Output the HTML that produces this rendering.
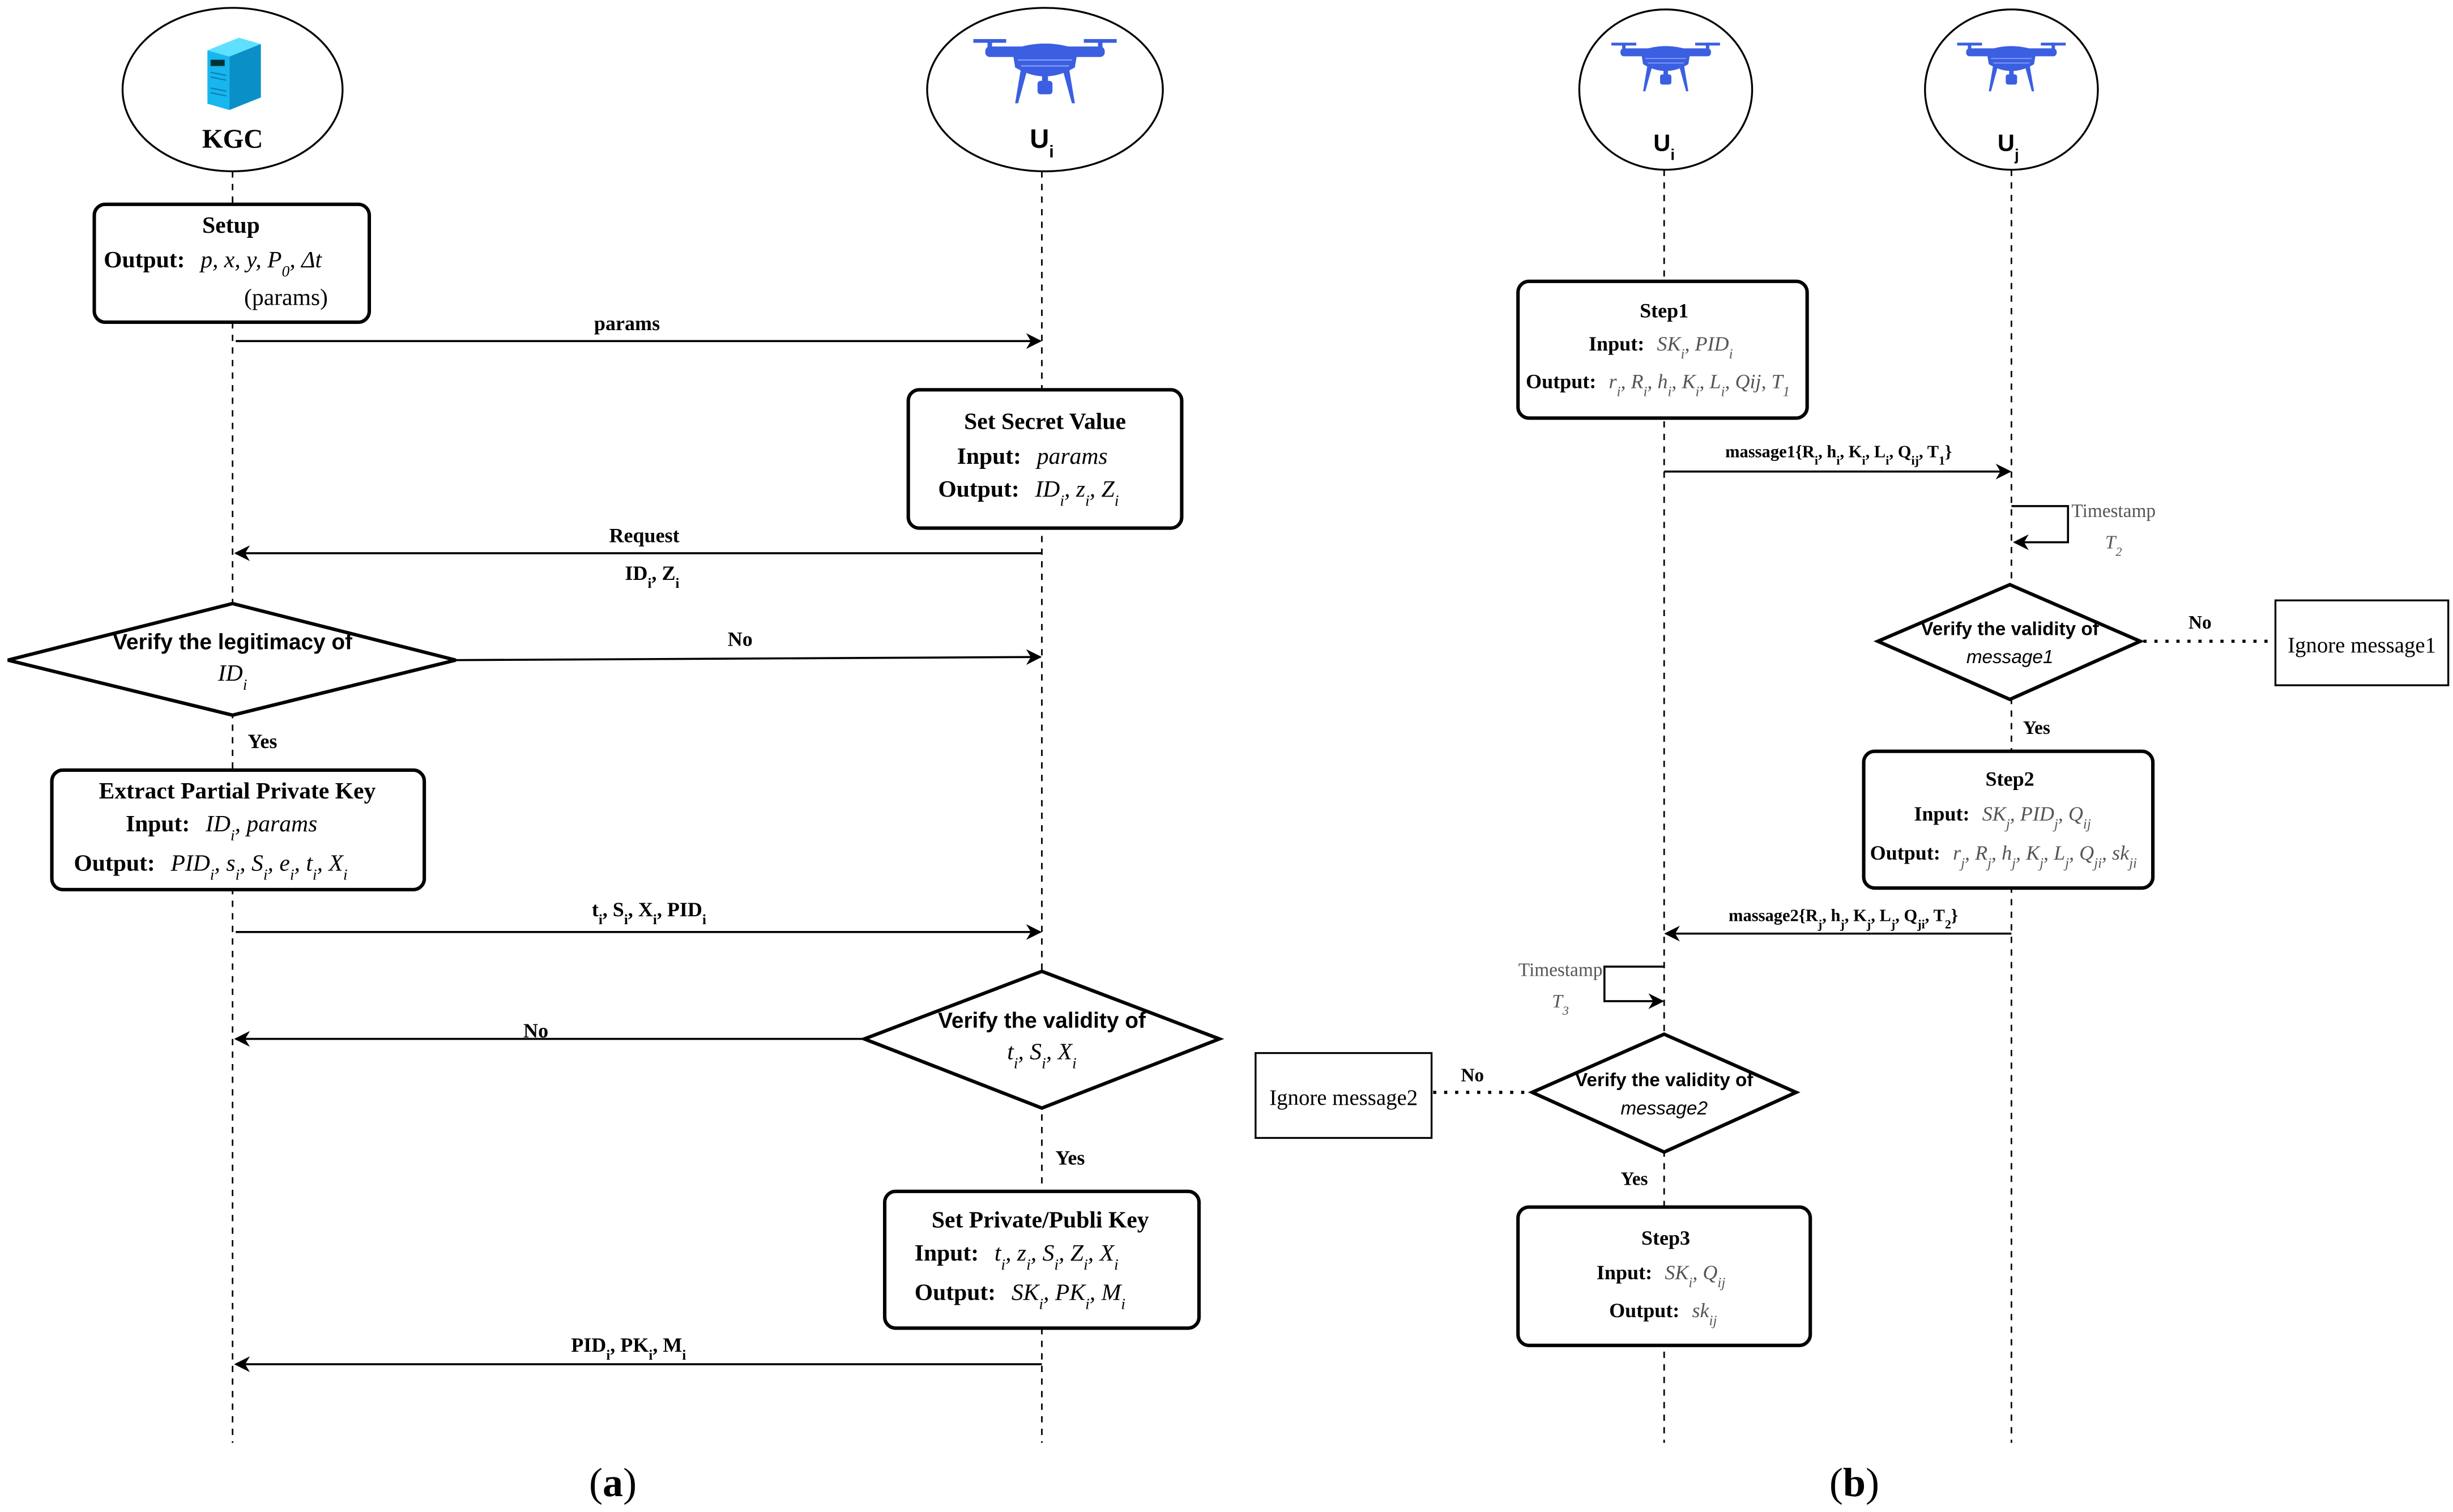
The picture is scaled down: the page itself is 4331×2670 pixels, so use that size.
<!DOCTYPE html>
<html><head><meta charset="utf-8"><style>
html,body{margin:0;padding:0;background:#fff;}
svg{display:block;}
text{font-family:"Liberation Serif",serif;}
.b{font-weight:bold;}
.s{font-family:"Liberation Sans",sans-serif;}
.i{font-style:italic;font-weight:normal;}
.g{fill:#555;}
</style></head><body>
<svg width="4331" height="2670" viewBox="0 0 1561 962" preserveAspectRatio="none" xmlns="http://www.w3.org/2000/svg">
<defs>
<marker id="ar" markerWidth="10" markerHeight="10" refX="9" refY="5" orient="auto" markerUnits="userSpaceOnUse">
<path d="M0,0 L10,5 L0,10 L3,5 Z" fill="#000"/>
</marker>
<g id="drone" fill="#3b5fe0" stroke="none">
<rect x="-48" y="3" width="22" height="2.5"/><rect x="26" y="3" width="22" height="2.5"/>
<rect x="-38.5" y="3" width="3" height="7"/><rect x="35.5" y="3" width="3" height="7"/>
<rect x="-40" y="8" width="80" height="7" rx="3"/>
<path d="M-22,10 Q0,2 22,10 L20,22 Q0,34 -20,22 Z"/>
<path d="M-16,22 L-20,46 L-18,46 L-12,24 Z"/><path d="M16,22 L20,46 L18,46 L12,24 Z"/>
<rect x="-2" y="26" width="4" height="6"/><rect x="-5" y="31" width="10" height="9" rx="2"/>
<g stroke="#8aa0ff" stroke-width="0.8"><line x1="-18" y1="17" x2="18" y2="17"/><line x1="-16" y1="21" x2="16" y2="21"/></g>
</g>
</defs>
<g fill="none" stroke="#000" stroke-width="1.2">
<!-- panel a actors -->
<ellipse cx="148" cy="57" rx="70" ry="52"/>
<ellipse cx="665" cy="57" rx="75" ry="52"/>
<!-- panel b actors -->
<ellipse cx="1060" cy="57" rx="55" ry="51"/>
<ellipse cx="1280" cy="57" rx="55" ry="51"/>
</g>
<!-- server icon -->
<g>
<polygon points="132,32 152,24 166,28 146,36" fill="#5fe0ff"/>
<polygon points="146,36 166,28 166,62 146,70" fill="#0a8fc7"/>
<polygon points="132,32 146,36 146,70 132,66" fill="#17b6ef"/>
<rect x="134" y="38" width="9" height="4" fill="#033"/>
<g stroke="#0a7fb0" stroke-width="0.8"><line x1="134" y1="46" x2="144" y2="48"/><line x1="134" y1="49" x2="144" y2="51"/><line x1="134" y1="56" x2="144" y2="58"/><line x1="134" y1="59" x2="144" y2="61"/></g>
</g>
<use href="#drone" transform="translate(665,22) scale(0.95)"/>
<use href="#drone" transform="translate(1060,25) scale(0.72)"/>
<use href="#drone" transform="translate(1280,25) scale(0.72)"/>
<text x="148" y="94" font-size="17" class="b" text-anchor="middle">KGC</text>
<text x="663" y="94" font-size="17" class="b s" text-anchor="middle">U<tspan baseline-shift="sub" font-size="11">i</tspan></text>
<text x="1059" y="96" font-size="15" class="b s" text-anchor="middle">U<tspan baseline-shift="sub" font-size="10">i</tspan></text>
<text x="1278" y="96" font-size="15" class="b s" text-anchor="middle">U<tspan baseline-shift="sub" font-size="10">j</tspan></text>

<!-- lifelines -->
<g stroke="#000" stroke-width="1" stroke-dasharray="4,4">
<line x1="148" y1="109" x2="148" y2="918"/>
<line x1="663" y1="109" x2="663" y2="918"/>
<line x1="1059" y1="108" x2="1059" y2="918"/>
<line x1="1280" y1="108" x2="1280" y2="918"/>
</g>

<!-- boxes (white fill to cover lifelines) -->
<g fill="#fff" stroke="#000" stroke-width="2.2">
<rect x="60" y="130" width="175" height="75" rx="7"/>
<rect x="578" y="248" width="174" height="88" rx="7"/>
<polygon points="148,384 290,420 148,455 5,420"/>
<rect x="33" y="490" width="237" height="76" rx="7"/>
<polygon points="663,618 776,661 663,705 550,661"/>
<rect x="563" y="758" width="200" height="87" rx="7"/>
<rect x="966" y="179" width="184" height="87" rx="7"/>
<polygon points="1279,372 1362,408 1279,445 1195,408"/>
<rect x="1186" y="478" width="184" height="87" rx="7"/>
<polygon points="1059,658 1143,695 1059,733 975,695"/>
<rect x="966" y="768" width="186" height="88" rx="7"/>
</g>
<g fill="#fff" stroke="#000" stroke-width="1.2">
<rect x="1448" y="382" width="110" height="54"/>
<rect x="799" y="670" width="112" height="54"/>
</g>

<!-- arrows -->
<g stroke="#000" stroke-width="1.3" fill="none">
<line x1="150" y1="217" x2="662" y2="217" marker-end="url(#ar)"/>
<line x1="663" y1="352" x2="150" y2="352" marker-end="url(#ar)"/>
<line x1="290" y1="420" x2="662" y2="418" marker-end="url(#ar)"/>
<line x1="150" y1="593" x2="662" y2="593" marker-end="url(#ar)"/>
<line x1="550" y1="661" x2="150" y2="661" marker-end="url(#ar)"/>
<line x1="663" y1="868" x2="150" y2="868" marker-end="url(#ar)"/>
<line x1="1059" y1="300" x2="1279" y2="300" marker-end="url(#ar)"/>
<polyline points="1280,322 1316,322 1316,345 1282,345" marker-end="url(#ar)"/>
<line x1="1280" y1="594" x2="1060" y2="594" marker-end="url(#ar)"/>
<polyline points="1059,615 1021,615 1021,637 1058,637" marker-end="url(#ar)"/>
</g>
<g stroke="#000" stroke-width="2" stroke-dasharray="2,5">
<line x1="1364" y1="408" x2="1447" y2="408"/>
<line x1="912" y1="695" x2="974" y2="695"/>
</g>

<!-- panel a texts -->
<g font-size="15" class="b">
<text x="147" y="148" text-anchor="middle">Setup</text>
<text x="66" y="170">Output:<tspan class="i" dx="10">p, x, y, P<tspan baseline-shift="sub" font-size="10">0</tspan>, Δt</tspan></text>
<text x="182" y="194" text-anchor="middle" font-weight="normal">(params)</text>
<text x="665" y="273" text-anchor="middle">Set Secret Value</text>
<text x="609" y="295">Input:<tspan class="i" dx="10">params</tspan></text>
<text x="597" y="316">Output:<tspan class="i" dx="10">ID<tspan baseline-shift="sub" font-size="10">i</tspan>, z<tspan baseline-shift="sub" font-size="10">i</tspan>, Z<tspan baseline-shift="sub" font-size="10">i</tspan></tspan></text>
<text x="151" y="508" text-anchor="middle">Extract Partial Private Key</text>
<text x="80" y="529">Input:<tspan class="i" dx="10">ID<tspan baseline-shift="sub" font-size="10">i</tspan>, params</tspan></text>
<text x="47" y="554">Output:<tspan class="i" dx="10">PID<tspan baseline-shift="sub" font-size="10">i</tspan>, s<tspan baseline-shift="sub" font-size="10">i</tspan>, S<tspan baseline-shift="sub" font-size="10">i</tspan>, e<tspan baseline-shift="sub" font-size="10">i</tspan>, t<tspan baseline-shift="sub" font-size="10">i</tspan>, X<tspan baseline-shift="sub" font-size="10">i</tspan></tspan></text>
<text x="662" y="781" text-anchor="middle">Set Private/Publi Key</text>
<text x="582" y="802">Input:<tspan class="i" dx="10">t<tspan baseline-shift="sub" font-size="10">i</tspan>, z<tspan baseline-shift="sub" font-size="10">i</tspan>, S<tspan baseline-shift="sub" font-size="10">i</tspan>, Z<tspan baseline-shift="sub" font-size="10">i</tspan>, X<tspan baseline-shift="sub" font-size="10">i</tspan></tspan></text>
<text x="582" y="827">Output:<tspan class="i" dx="10">SK<tspan baseline-shift="sub" font-size="10">i</tspan>, PK<tspan baseline-shift="sub" font-size="10">i</tspan>, M<tspan baseline-shift="sub" font-size="10">i</tspan></tspan></text>
</g>
<g font-size="13" class="b">
<text x="399" y="210" text-anchor="middle">params</text>
<text x="410" y="345" text-anchor="middle">Request</text>
<text x="415" y="369" text-anchor="middle">ID<tspan baseline-shift="sub" font-size="9">i</tspan>, Z<tspan baseline-shift="sub" font-size="9">i</tspan></text>
<text x="471" y="411" text-anchor="middle">No</text>
<text x="167" y="476" text-anchor="middle">Yes</text>
<text x="413" y="583" text-anchor="middle">t<tspan baseline-shift="sub" font-size="9">i</tspan>, S<tspan baseline-shift="sub" font-size="9">i</tspan>, X<tspan baseline-shift="sub" font-size="9">i</tspan>, PID<tspan baseline-shift="sub" font-size="9">i</tspan></text>
<text x="341" y="660" text-anchor="middle">No</text>
<text x="681" y="741" text-anchor="middle">Yes</text>
<text x="400" y="860" text-anchor="middle">PID<tspan baseline-shift="sub" font-size="9">i</tspan>, PK<tspan baseline-shift="sub" font-size="9">i</tspan>, M<tspan baseline-shift="sub" font-size="9">i</tspan></text>
</g>
<g font-size="14">
<text x="148" y="413" class="b s" text-anchor="middle" font-size="14">Verify the legitimacy of</text>
<text x="148" y="433" class="i" text-anchor="middle" font-size="15">ID<tspan baseline-shift="sub" font-size="10">i</tspan></text>
<text x="663" y="654" class="b s" text-anchor="middle">Verify the validity of</text>
<text x="663" y="674" class="i" text-anchor="middle" font-size="15">t<tspan baseline-shift="sub" font-size="10">i</tspan>, S<tspan baseline-shift="sub" font-size="10">i</tspan>, X<tspan baseline-shift="sub" font-size="10">i</tspan></text>
</g>

<!-- panel b texts -->
<g font-size="13" class="b">
<text x="1059" y="202" text-anchor="middle">Step1</text>
<text x="1011" y="223">Input:<tspan class="i g" dx="8">SK<tspan baseline-shift="sub" font-size="9">i</tspan>, PID<tspan baseline-shift="sub" font-size="9">i</tspan></tspan></text>
<text x="971" y="247">Output:<tspan class="i g" dx="8">r<tspan baseline-shift="sub" font-size="9">i</tspan>, R<tspan baseline-shift="sub" font-size="9">i</tspan>, h<tspan baseline-shift="sub" font-size="9">i</tspan>, K<tspan baseline-shift="sub" font-size="9">i</tspan>, L<tspan baseline-shift="sub" font-size="9">i</tspan>, Qij, T<tspan baseline-shift="sub" font-size="9">1</tspan></tspan></text>
<text x="1279" y="500" text-anchor="middle">Step2</text>
<text x="1218" y="522">Input:<tspan class="i g" dx="8">SK<tspan baseline-shift="sub" font-size="9">j</tspan>, PID<tspan baseline-shift="sub" font-size="9">j</tspan>, Q<tspan baseline-shift="sub" font-size="9">ij</tspan></tspan></text>
<text x="1190" y="547">Output:<tspan class="i g" dx="8">r<tspan baseline-shift="sub" font-size="9">j</tspan>, R<tspan baseline-shift="sub" font-size="9">j</tspan>, h<tspan baseline-shift="sub" font-size="9">j</tspan>, K<tspan baseline-shift="sub" font-size="9">j</tspan>, L<tspan baseline-shift="sub" font-size="9">j</tspan>, Q<tspan baseline-shift="sub" font-size="9">ji</tspan>, sk<tspan baseline-shift="sub" font-size="9">ji</tspan></tspan></text>
<text x="1060" y="792" text-anchor="middle">Step3</text>
<text x="1016" y="814">Input:<tspan class="i g" dx="8">SK<tspan baseline-shift="sub" font-size="9">i</tspan>, Q<tspan baseline-shift="sub" font-size="9">ij</tspan></tspan></text>
<text x="1024" y="838">Output:<tspan class="i g" dx="8">sk<tspan baseline-shift="sub" font-size="9">ij</tspan></tspan></text>
</g>
<g font-size="11" class="b">
<text x="1170" y="291" text-anchor="middle">massage1{R<tspan baseline-shift="sub" font-size="8">i</tspan>, h<tspan baseline-shift="sub" font-size="8">i</tspan>, K<tspan baseline-shift="sub" font-size="8">i</tspan>, L<tspan baseline-shift="sub" font-size="8">i</tspan>, Q<tspan baseline-shift="sub" font-size="8">ij</tspan>, T<tspan baseline-shift="sub" font-size="8">1</tspan>}</text>
<text x="1173" y="586" text-anchor="middle">massage2{R<tspan baseline-shift="sub" font-size="8">j</tspan>, h<tspan baseline-shift="sub" font-size="8">j</tspan>, K<tspan baseline-shift="sub" font-size="8">j</tspan>, L<tspan baseline-shift="sub" font-size="8">j</tspan>, Q<tspan baseline-shift="sub" font-size="8">ji</tspan>, T<tspan baseline-shift="sub" font-size="8">2</tspan>}</text>
<text x="1400" y="400" text-anchor="middle" font-size="12">No</text>
<text x="1296" y="467" text-anchor="middle" font-size="12">Yes</text>
<text x="937" y="688" text-anchor="middle" font-size="12">No</text>
<text x="1040" y="754" text-anchor="middle" font-size="12">Yes</text>
</g>
<g font-size="12" fill="#555">
<text x="1345" y="329" text-anchor="middle">Timestamp</text>
<text x="1345" y="349" text-anchor="middle" class="i">T<tspan baseline-shift="sub" font-size="8">2</tspan></text>
<text x="993" y="621" text-anchor="middle">Timestamp</text>
<text x="993" y="641" text-anchor="middle" class="i">T<tspan baseline-shift="sub" font-size="8">3</tspan></text>
</g>
<g font-size="12">
<text x="1279" y="404" class="b s" text-anchor="middle">Verify the validity of</text>
<text x="1279" y="422" class="s" font-style="italic" text-anchor="middle">message1</text>
<text x="1059" y="691" class="b s" text-anchor="middle">Verify the validity of</text>
<text x="1059" y="709" class="s" font-style="italic" text-anchor="middle">message2</text>
</g>
<text x="1503" y="415" font-size="14" text-anchor="middle">Ignore message1</text>
<text x="855" y="703" font-size="14" text-anchor="middle">Ignore message2</text>

<text x="390" y="952" font-size="26" text-anchor="middle">(<tspan font-weight="bold">a</tspan>)</text>
<text x="1180" y="952" font-size="26" text-anchor="middle">(<tspan font-weight="bold">b</tspan>)</text>
</svg>
</body></html>
